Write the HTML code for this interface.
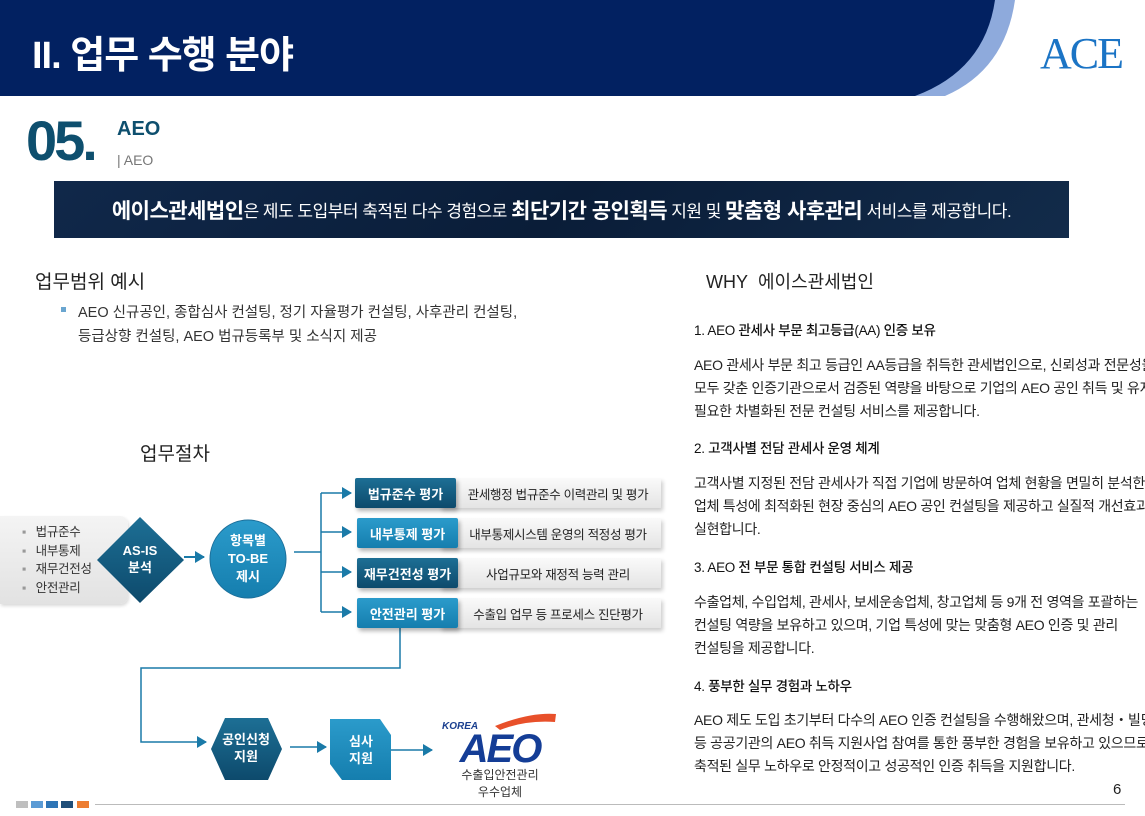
<!DOCTYPE html>
<html><head><meta charset="utf-8"><style>
*{margin:0;padding:0;box-sizing:border-box}
body{width:1145px;height:816px;overflow:hidden;background:#fff;position:relative;font-family:"Liberation Sans","Noto Sans CJK KR",sans-serif;color:#222}
.a{position:absolute;white-space:nowrap}
.r{font-size:14px;color:#222;letter-spacing:-0.3px}
.h{font-size:13.5px;color:#111;font-weight:500;letter-spacing:-0.3px}
.db{position:absolute;height:30px;color:#fff;font-size:13px;font-weight:bold;display:flex;align-items:center;justify-content:center;border-radius:2px;box-shadow:2px 3px 4px rgba(0,0,0,.3)}
.lb{position:absolute;height:30px;font-size:12.5px;color:#222;display:flex;align-items:center;justify-content:center;background:linear-gradient(#fafafa,#e4e4e4);box-shadow:2px 3px 4px rgba(0,0,0,.2);letter-spacing:-0.3px}
</style></head><body>
<svg class="a" style="left:0;top:0" width="1145" height="96">
<path d="M0 0H1015 Q1005 70 945 96 H0Z" fill="#8eaadc"/>
<path d="M0 0H995 Q985 70 915 96 H0Z" fill="#022161"/>
</svg>
<div class="a" style="left:32px;top:24px;font-size:38px;color:#fff;font-weight:bold;letter-spacing:-1px">II. 업무 수행 분야</div>
<div class="a" style="left:1040px;top:28px;font-family:'Liberation Serif',serif;font-size:44px;color:#1b74c5;letter-spacing:-2px">ACE</div>
<div class="a" style="left:26px;top:108px;font-size:56px;font-weight:bold;color:#0e4f6e;letter-spacing:-3px">05.</div>
<div class="a" style="left:117px;top:118px;font-size:20px;font-weight:bold;color:#0e4f6e">AEO</div>
<div class="a" style="left:117px;top:152px;font-size:14px;color:#777">| AEO</div>
<div class="a" style="left:54px;top:181px;width:1015px;height:57px;background:linear-gradient(135deg,#10284a,#0a1d38 50%,#122b4a);color:#fff;font-size:17px;display:flex;align-items:center;justify-content:center;letter-spacing:-0.5px">
<b style="font-size:21px">에이스관세법인</b>은 제도 도입부터 축적된 다수 경험으로&nbsp;<b style="font-size:21px">최단기간 공인획득</b>&nbsp;지원 및&nbsp;<b style="font-size:21px">맞춤형 사후관리</b>&nbsp;서비스를 제공합니다.</div>

<div class="a" style="left:35px;top:267px;font-size:19px;color:#222">업무범위 예시</div>
<div class="a" style="left:61px;top:307px;width:5px;height:5px;background:#6aa6d0"></div>
<div class="a" style="left:78px;top:301px;font-size:14.5px;line-height:24px;color:#333">AEO 신규공인, 종합심사 컨설팅, 정기 자율평가 컨설팅, 사후관리 컨설팅,<br>등급상향 컨설팅, AEO 법규등록부 및 소식지 제공</div>
<div class="a" style="left:140px;top:439px;font-size:19px;color:#222">업무절차</div>

<div class="a" style="left:706px;top:268px;font-size:18px;color:#222">WHY&nbsp; 에이스관세법인</div>
<div class="a h" style="left:694px;top:319px">1. AEO 관세사 부문 최고등급(AA) 인증 보유</div>
<div class="a r" style="left:694px;top:354px;line-height:23px">AEO 관세사 부문 최고 등급인 AA등급을 취득한 관세법인으로, 신뢰성과 전문성을<br>모두 갖춘 인증기관으로서 검증된 역량을 바탕으로 기업의 AEO 공인 취득 및 유지에<br>필요한 차별화된 전문 컨설팅 서비스를 제공합니다.</div>
<div class="a h" style="left:694px;top:437px">2. 고객사별 전담 관세사 운영 체계</div>
<div class="a r" style="left:694px;top:472px;line-height:23px">고객사별 지정된 전담 관세사가 직접 기업에 방문하여 업체 현황을 면밀히 분석한 후,<br>업체 특성에 최적화된 현장 중심의 AEO 공인 컨설팅을 제공하고 실질적 개선효과를<br>실현합니다.</div>
<div class="a h" style="left:694px;top:556px">3. AEO 전 부문 통합 컨설팅 서비스 제공</div>
<div class="a r" style="left:694px;top:591px;line-height:23px">수출업체, 수입업체, 관세사, 보세운송업체, 창고업체 등 9개 전 영역을 포괄하는<br>컨설팅 역량을 보유하고 있으며, 기업 특성에 맞는 맞춤형 AEO 인증 및 관리<br>컨설팅을 제공합니다.</div>
<div class="a h" style="left:694px;top:675px">4. 풍부한 실무 경험과 노하우</div>
<div class="a r" style="left:694px;top:709px;line-height:23px">AEO 제도 도입 초기부터 다수의 AEO 인증 컨설팅을 수행해왔으며, 관세청・빌딩<br>등 공공기관의 AEO 취득 지원사업 참여를 통한 풍부한 경험을 보유하고 있으므로<br>축적된 실무 노하우로 안정적이고 성공적인 인증 취득을 지원합니다.</div>

<!-- diagram -->
<div class="a" style="left:0;top:516px;width:128px;height:88px;background:linear-gradient(#f4f4f4,#e2e2e2);border-radius:0 8px 8px 0;box-shadow:1px 2px 3px rgba(0,0,0,.15)"></div>
<div class="a" style="left:22px;top:523px;font-size:12.5px;line-height:18.5px;color:#333;letter-spacing:-0.3px"><span style="color:#999">▪</span>&nbsp;&nbsp;&nbsp;법규준수<br><span style="color:#999">▪</span>&nbsp;&nbsp;&nbsp;내부통제<br><span style="color:#999">▪</span>&nbsp;&nbsp;&nbsp;재무건전성<br><span style="color:#999">▪</span>&nbsp;&nbsp;&nbsp;안전관리</div>
<svg class="a" style="left:0;top:460px" width="680" height="356">
<defs>
<linearGradient id="g1" x1="0" y1="0" x2="0" y2="1"><stop offset="0" stop-color="#1d6f95"/><stop offset="1" stop-color="#0d4a6c"/></linearGradient>
<linearGradient id="g2" x1="0" y1="0" x2="0" y2="1"><stop offset="0" stop-color="#2b9bcb"/><stop offset="1" stop-color="#157eae"/></linearGradient>
<marker id="ar" markerWidth="10" markerHeight="12" refX="9" refY="6" orient="auto" markerUnits="userSpaceOnUse"><path d="M0 0L10 6L0 12Z" fill="#1a7aa8"/></marker>
</defs>
<polygon points="140,57 184,100 140,143 97,100" fill="url(#g1)"/>
<text x="140" y="95" fill="#fff" font-size="13" font-weight="bold" text-anchor="middle">AS-IS</text>
<text x="140" y="112" fill="#fff" font-size="13" font-weight="bold" text-anchor="middle">분석</text>
<line x1="184" y1="97" x2="204" y2="97" stroke="#1a7aa8" stroke-width="2" marker-end="url(#ar)"/>
<ellipse cx="248" cy="99" rx="38" ry="39" fill="url(#g2)" stroke="#1c6f9a" stroke-width="1"/>
<text x="248" y="85" fill="#fff" font-size="13" font-weight="bold" text-anchor="middle">항목별</text>
<text x="248" y="103" fill="#fff" font-size="13" font-weight="bold" text-anchor="middle">TO-BE</text>
<text x="248" y="121" fill="#fff" font-size="13" font-weight="bold" text-anchor="middle">제시</text>
<g stroke="#1a7aa8" stroke-width="1.5" fill="none">
<path d="M294 92H321M321 33V152"/>
<line x1="321" y1="33" x2="351" y2="33" marker-end="url(#ar)"/>
<line x1="321" y1="72" x2="351" y2="72" marker-end="url(#ar)"/>
<line x1="321" y1="112" x2="351" y2="112" marker-end="url(#ar)"/>
<line x1="321" y1="152" x2="351" y2="152" marker-end="url(#ar)"/>
<path d="M400 168V208H141V282H206" marker-end="url(#ar)"/>
<path d="M290 287H326" marker-end="url(#ar)"/>
<path d="M391 290H432" marker-end="url(#ar)"/>
</g>
<polygon points="225,258 268,258 282,289 268,320 225,320 211,289" fill="url(#g1)"/>
<text x="246" y="284" fill="#fff" font-size="13" font-weight="bold" text-anchor="middle">공인신청</text>
<text x="246" y="301" fill="#fff" font-size="13" font-weight="bold" text-anchor="middle">지원</text>
<polygon points="330,259 380,259 391,275 391,320 342,320 330,304" fill="url(#g2)"/>
<text x="361" y="286" fill="#fff" font-size="13" font-weight="bold" text-anchor="middle">심사</text>
<text x="361" y="303" fill="#fff" font-size="13" font-weight="bold" text-anchor="middle">지원</text>
<text x="442" y="269" fill="#1a3f8f" font-size="10" font-weight="bold" font-style="italic">KOREA</text>
<path d="M495 266 Q530 252 556 254 L555 262 Q525 260 500 270Z" fill="#e8502a"/>
<text x="500" y="302" fill="#143d96" font-size="40" font-weight="bold" font-style="italic" text-anchor="middle" letter-spacing="-2">AEO</text>
<text x="500" y="319" fill="#333" font-size="12" text-anchor="middle">수출입안전관리</text>
<text x="500" y="336" fill="#333" font-size="12" text-anchor="middle">우수업체</text>
</svg>
<div class="lb" style="left:440px;top:478px;width:221px;padding-left:15px">관세행정 법규준수 이력관리 및 평가</div>
<div class="lb" style="left:440px;top:518px;width:221px;padding-left:15px">내부통제시스템 운영의 적정성 평가</div>
<div class="lb" style="left:440px;top:558px;width:221px;padding-left:15px">사업규모와 재정적 능력 관리</div>
<div class="lb" style="left:440px;top:598px;width:221px;padding-left:15px">수출입 업무 등 프로세스 진단평가</div>
<div class="db" style="left:355px;top:478px;width:101px;background:linear-gradient(#1d6f95,#0d4a6c)">법규준수 평가</div>
<div class="db" style="left:357px;top:518px;width:101px;background:linear-gradient(#2b9bcb,#157eae)">내부통제 평가</div>
<div class="db" style="left:357px;top:558px;width:101px;background:linear-gradient(#1d6f95,#0d4a6c)">재무건전성 평가</div>
<div class="db" style="left:357px;top:598px;width:101px;background:linear-gradient(#2b9bcb,#157eae)">안전관리 평가</div>

<div class="a" style="left:16px;top:801px;width:12px;height:7px;background:#bfbfbf"></div>
<div class="a" style="left:31px;top:801px;width:12px;height:7px;background:#5b9bd5"></div>
<div class="a" style="left:46px;top:801px;width:12px;height:7px;background:#2e75b6"></div>
<div class="a" style="left:61px;top:801px;width:12px;height:7px;background:#1f4e79"></div>
<div class="a" style="left:77px;top:801px;width:12px;height:7px;background:#ed7d31"></div>
<div class="a" style="left:95px;top:804px;width:1030px;height:1px;background:#bbb"></div>
<div class="a" style="left:1113px;top:781px;font-size:15px;color:#222">6</div>
</body></html>
